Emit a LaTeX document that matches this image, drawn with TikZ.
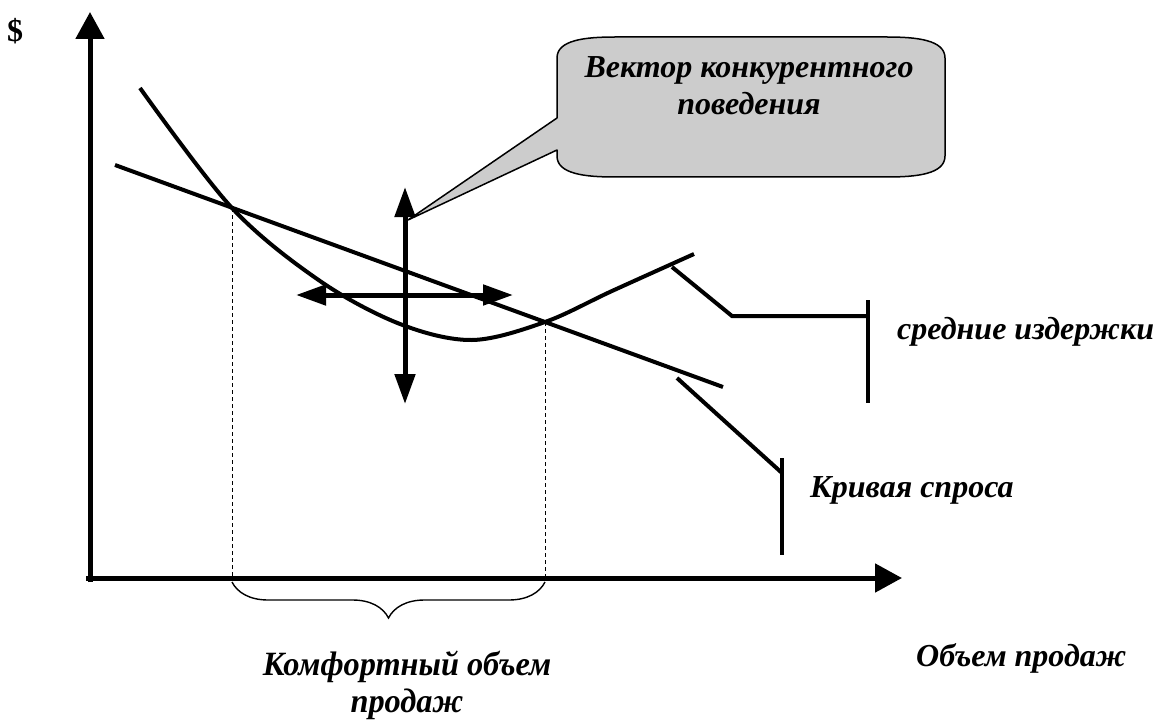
\documentclass[tikz,border=0pt]{standalone}
\usepackage{fontspec}
\setmainfont{Liberation Serif}
\usetikzlibrary{arrows.meta,decorations.pathreplacing}
\tikzset{
  lbl/.style={font=\fontsize{32}{36}\selectfont\bfseries\itshape, inner sep=0pt},
  biglbl/.style={font=\fontsize{34}{38}\selectfont\bfseries\itshape, inner sep=0pt},
  thick line/.style={line width=4pt},
  axis/.style={line width=5pt, -{Triangle[length=27pt,width=28pt]}},
  dbl/.style={line width=5pt, {Triangle[length=30pt,width=20pt]}-{Triangle[length=30pt,width=20pt]}},
  guide/.style={line width=1pt, dash pattern=on 4pt off 3pt},
  callout/.style={fill=black!20, draw=black, line width=1.5pt, line join=round}
}
\begin{document}
\begin{tikzpicture}[x=1pt,y=-1pt]
\useasboundingbox (0,0) rectangle (1161,722);
% coordinates
\coordinate (O) at (90,578);
\coordinate (Ytip) at (90,12);
\coordinate (Xtip) at (902,578);
\coordinate (Yb) at (90,582);
\coordinate (Xl) at (86,578);
\coordinate (P1) at (232,208);
\coordinate (P2) at (545,322);
\coordinate (P1b) at (232,578);
\coordinate (P2b) at (545,578);
\coordinate (D1) at (115,165);
\coordinate (D2) at (723,387);
\coordinate (Vt) at (405,187);
\coordinate (Vb) at (405,404);
\coordinate (Hl) at (296,295);
\coordinate (Hr) at (513,295);
\coordinate (Tip) at (408,220);
% axes
\draw[axis] (Yb) -- (Ytip);
\draw[axis] (Xl) -- (Xtip);
% guides
\draw[guide] (P1) -- (P1b);
\draw[guide] (P2) -- (P2b);
% brace
\draw[line width=1.4pt, decorate, decoration={brace, amplitude=36pt, mirror}] (232,582) -- (545,582);
% demand line
\draw[thick line] (D1) -- (D2);
% cost curve
\draw[thick line] plot[smooth, tension=0.55] coordinates {(140,88) (P1) (320,281) (400,324) (472,340) (P2) (612,291) (694,254)};
% double arrows
\draw[dbl] (Vb) -- (Vt);
\draw[dbl] (Hl) -- (Hr);
% callout
\draw[callout] (557,150) -- (Tip) -- (557,118) -- (557,58)
  .. controls (557,40) and (585,37) .. (615,37) -- (887,37)
  .. controls (917,37) and (945,40) .. (945,58) -- (945,156)
  .. controls (945,174) and (917,177) .. (887,177) -- (615,177)
  .. controls (585,177) and (557,174) .. (557,156) -- cycle;
\node[lbl, anchor=base] (ct1) at (749,78) {Вектор конкурентного};
\node[lbl, anchor=base] (ct2) at (749,115) {поведения};
% leaders
\draw[thick line] (672,267) -- (732,316) -- (868,316);
\draw[thick line] (868,300) -- (868,403);
\draw[thick line] (677,378) -- (782,473);
\draw[thick line] (782,458) -- (782,555);
% labels
\node[lbl, anchor=base west] (cost) at (897,339) {средние издержки};
\node[lbl, anchor=base west] (dem) at (810,497) {Кривая спроса};
\node[lbl, anchor=base west] (xlab) at (916,666) {Объем продаж};
\node[font=\fontsize{32}{36}\selectfont\bfseries, inner sep=0pt, anchor=base west] (ylab) at (7,42) {\$};
\node[biglbl, anchor=base] (cf1) at (407,675) {\scalebox{0.95}[1]{Комфортный объем}};
\node[biglbl, anchor=base] (cf2) at (407,712) {\scalebox{0.95}[1]{продаж}};
\end{tikzpicture}
\end{document}
